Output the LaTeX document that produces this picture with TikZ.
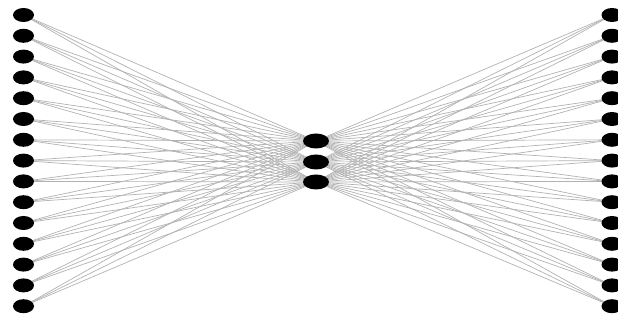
\documentclass[tikz,border=0pt]{standalone}
\usetikzlibrary{shapes.geometric,backgrounds}
\tikzset{
  dot/.style={ellipse, fill=black, draw=none, inner sep=0pt, minimum width=21pt, minimum height=14pt},
  middot/.style={ellipse, fill=black, draw=none, inner sep=0pt, minimum width=26pt, minimum height=15pt},
  link/.style={draw=black!30, line width=0.7pt}
}
\begin{document}
\begin{tikzpicture}[x=1pt,y=-1pt]
\useasboundingbox (0,0) rectangle (618,320);
\foreach \i in {0,...,14} {
  \node[dot] (L\i) at (23.5,{15+20.8*\i}) {};
  \node[dot] (R\i) at (612,{15+20.8*\i}) {};
}
\node[middot] (M0) at (316,141) {};
\node[middot] (M1) at (316,162) {};
\node[middot] (M2) at (316,182) {};
\begin{scope}[on background layer]
\foreach \i in {0,...,14} {
  \foreach \m in {0,1,2} {
    \draw[link] (L\i.center) -- (M\m.center);
    \draw[link] (R\i.center) -- (M\m.center);
  }
}
\end{scope}
\end{tikzpicture}
\end{document}
